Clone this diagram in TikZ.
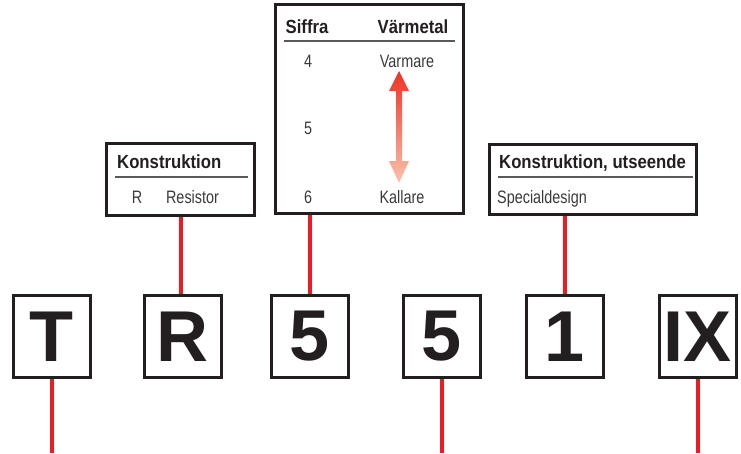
\documentclass[tikz,border=0pt]{standalone}
\usepackage{fontspec}
\setmainfont{Liberation Sans}
\newfontfamily\bigfont{Liberation Sans Bold}
\newfontfamily\hdfont[FakeStretch=0.88]{Liberation Sans Bold}
\newfontfamily\txfont[FakeStretch=0.8]{Liberation Sans}
\definecolor{ink}{HTML}{231F20}
\definecolor{txtgray}{HTML}{3A3A3C}
\definecolor{rulegray}{HTML}{58595B}
\definecolor{linered}{HTML}{ED1C24}
\definecolor{warmred}{HTML}{EE3224}
\definecolor{coldpink}{HTML}{F9C3AC}
\tikzset{
  digit/.style={draw=ink,line width=3pt,minimum width=77pt,minimum height=82pt,inner sep=0pt,text=ink,font=\bigfont\fontsize{72}{72}\selectfont},
  infobox/.style={draw=ink,line width=2.5pt,inner sep=0pt},
  hd/.style={anchor=base,text=ink,inner sep=0pt,font=\hdfont\fontsize{19}{19}\selectfont},
  tx/.style={anchor=base,text=txtgray,inner sep=0pt,font=\txfont\fontsize{18}{18}\selectfont},
  rule/.style={draw=rulegray,line width=1.8pt},
  stem/.style={draw=linered,line width=4pt},
}
\begin{document}
\begin{tikzpicture}[x=1pt,y=-1pt]
  \useasboundingbox (0,0) rectangle (741,453);
  % code boxes
  \foreach \n/\x/\t in {T/51.5/T,R/182.5/R,fa/309.5/5,fb/441.5/5,one/564.5/1,ix/697.5/IX}{
    \node[digit] (\n) at (\x,336.5) {\t};}
  \coordinate (bottom) at (0,453);
  % info boxes
  \node[infobox,minimum width=148pt,minimum height=72pt] (konstr) at (180.5,179.5) {};
  \node[infobox,minimum width=188pt,minimum height=209pt] (table) at (369.5,109) {};
  \node[infobox,minimum width=207pt,minimum height=70pt] (design) at (593,179.5) {};
  % Konstruktion
  \node[hd,anchor=base west] (khd) at (117,168) {Konstruktion};
  \draw[rule] (115,177) -- (248,177);
  \node[tx] (kr) at (137,203.5) {R};
  \node[tx] (kres) at (192.5,203.5) {Resistor};
  % Siffra / Värmetal
  \node[hd] (siffra) at (307,33) {Siffra};
  \node[hd] (varmetal) at (413,33) {Värmetal};
  \draw[rule] (284,41) -- (455,41);
  \foreach \d/\y in {4/67,5/134,6/203}{\node[tx] (s\d) at (308,\y) {\d};}
  \node[tx] (warm) at (407,67) {Varmare};
  \node[tx] (cold) at (402,203) {Kallare};
  \shade[top color=warmred,bottom color=coldpink] (399,71) -- (409,91) -- (402,91) -- (402,161)
    -- (409,161) -- (399,183) -- (389,161) -- (396,161) -- (396,91) -- (389,91) -- cycle;
  % Konstruktion, utseende
  \node[hd,anchor=base west] (dhd) at (499,168) {Konstruktion, utseende};
  \draw[rule] (498,177) -- (693,177);
  \node[tx,anchor=base west] (dspec) at (497,203.5) {Specialdesign};
  % red stems
  \draw[stem] (konstr.south) -- (konstr.south |- R.north);
  \draw[stem] (fa.north) -- (fa.north |- table.south);
  \draw[stem] (one.north) -- (one.north |- design.south);
  \foreach \n in {T,fb,ix}{\draw[stem] (\n.south) -- (\n.south |- bottom);}
\end{tikzpicture}
\end{document}
